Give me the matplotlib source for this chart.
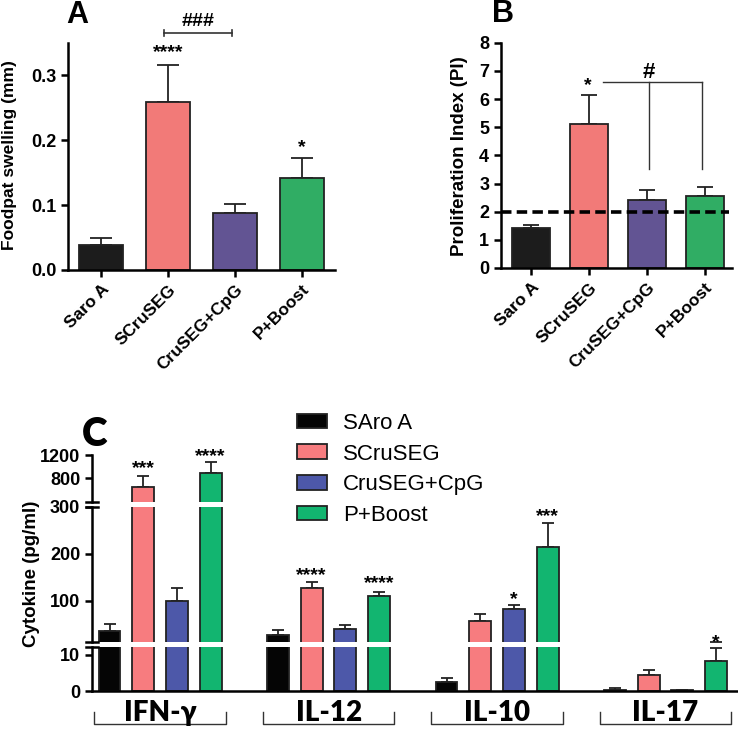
import matplotlib
matplotlib.use("Agg")
import matplotlib.pyplot as plt
import matplotlib.transforms as mtransforms
from matplotlib.lines import Line2D
import numpy as np

plt.rcParams['font.family'] = ['Liberation Sans', 'DejaVu Sans']

# ---------------- data ----------------
groups = ["Saro A", "SCruSEG", "CruSEG+CpG", "P+Boost"]
legend_labels = ["SAro A", "SCruSEG", "CruSEG+CpG", "P+Boost"]

# Panel A: footpad swelling (mm)
swelling = [0.039, 0.258, 0.087, 0.142]
swelling_err = [0.010, 0.057, 0.014, 0.031]

# Panel B: proliferation index
prolif = [1.41, 5.13, 2.42, 2.57]
prolif_err = [0.11, 1.03, 0.34, 0.29]
prolif_cutoff = 2.0

# Panel C: cytokines (pg/ml)
cytokines = ["IFN-\u03b3", "IL-12", "IL-10", "IL-17"]
saro_c = [35, 28, 2.6, 0.3]
scru_c = [650, 127, 58, 4.3]
cpg_c = [100, 40, 82, 0.2]
boost_c = [890, 111, 215, 8.3]
saro_c_err = [16, 9, 1.0, 0.5]
scru_c_err = [195, 13, 14, 1.6]
cpg_c_err = [28, 7.5, 8, 0.2]
boost_c_err = [195, 7, 51, 3.4]

colors_ab = ["#1c1c1c", "#f27a78", "#625493", "#30ad64"]
colors_c = ["#050505", "#f77c7f", "#4d58a9", "#12b570"]

CAL = ["Lato", "DejaVu Sans"]

W, H = 738, 729
fig = plt.figure(figsize=(W / 100, H / 100), dpi=100)


def rect(left, top, right, bottom):
    return [left / W, (H - bottom) / H, (right - left) / W, (bottom - top) / H]


def style_axes(ax):
    for s in ["top", "right"]:
        ax.spines[s].set_visible(False)
    for s in ["left", "bottom"]:
        ax.spines[s].set_linewidth(1.8)
    ax.tick_params(width=1.8, length=5, labelsize=13)
    for lab in ax.get_yticklabels():
        lab.set_fontweight("bold")


def star(ax, x, ytop, text, gap_px, fs=14):
    # place glyph visual centre gap_px above ytop
    off = (gap_px - 0.57 * fs / 0.72) * 0.72
    ax.annotate(text, xy=(x, ytop), xytext=(0, off), textcoords="offset points",
                ha="center", va="baseline", fontsize=fs, fontweight="bold",
                annotation_clip=False, zorder=6)


# ---------------- Panel A ----------------
axA = fig.add_axes(rect(68, 42.7, 335, 270))
xA = np.arange(len(groups))
axA.errorbar(xA, swelling, yerr=[np.zeros(4), swelling_err], fmt="none",
             ecolor="#222222", elinewidth=1.3, capsize=8, capthick=1.3, zorder=1)
axA.bar(xA, swelling, width=0.66, color=colors_ab, edgecolor="#222222",
        linewidth=1.3, zorder=2)
axA.set_xlim(-0.5, 3.5)
axA.set_ylim(0, 0.35)
axA.set_yticks([0, 0.1, 0.2, 0.3])
axA.set_yticklabels(["0.0", "0.1", "0.2", "0.3"])
axA.set_xticks(xA)
axA.set_xticklabels(groups, rotation=45, ha="right", rotation_mode="anchor",
                    fontsize=12.5, fontweight="bold")
style_axes(axA)
axA.tick_params(axis="x", labelsize=12.5)
star(axA, 1, swelling[1] + swelling_err[1], "****", 19)
star(axA, 3, swelling[3] + swelling_err[3], "*", 17)
# ### bracket
yb = 0.365
axA.plot([0.94, 1.96], [yb, yb], color="#333333", lw=1.2, clip_on=False)
for xe in [0.94, 1.96]:
    axA.plot([xe, xe], [yb - 0.005, yb + 0.005], color="#333333", lw=1.2, clip_on=False)
axA.annotate("###", xy=(1.45, yb), xytext=(0, 2), textcoords="offset points",
             ha="center", va="bottom", fontsize=14, fontweight="bold",
             annotation_clip=False)
fig.text(10 / W, 1 - 155 / H, "Foodpat swelling (mm)", rotation=90, ha="center",
         va="center", fontsize=12.5, fontweight="bold")
fig.text(77 / W, 1 - 15 / H, "A", ha="center", va="center", fontsize=22, fontweight="bold")

# ---------------- Panel B ----------------
axB = fig.add_axes(rect(501, 42.7, 732, 268))
xB = np.arange(len(groups))
axB.errorbar(xB, prolif, yerr=[np.zeros(4), prolif_err], fmt="none",
             ecolor="#222222", elinewidth=1.3, capsize=6, capthick=1.3, zorder=1)
axB.bar(xB, prolif, width=0.66, color=colors_ab, edgecolor="#222222",
        linewidth=1.3, zorder=2)
axB.set_xlim(-0.52, 3.47)
axB.set_ylim(0, 8)
axB.set_yticks(range(0, 9))
axB.set_xticks(xB)
axB.set_xticklabels(groups, rotation=45, ha="right", rotation_mode="anchor",
                    fontsize=12.5, fontweight="bold")
style_axes(axB)
axB.tick_params(axis="x", labelsize=12.5)
axB.axhline(prolif_cutoff, xmin=0, xmax=0.985, color="black", lw=2.6,
            dashes=[2.9, 1.45], zorder=5)
star(axB, 0.98, 6.63, "*", 2)
axB.plot([1.24, 2.95], [6.6, 6.6], color="#333333", lw=1.0, clip_on=False)
axB.plot([2.03, 2.03], [6.6, 3.5], color="#333333", lw=1.0)
axB.plot([2.95, 2.95], [6.6, 3.5], color="#333333", lw=1.0)
axB.annotate("#", xy=(2.03, 7.02), xytext=(0, -0.36 * 16), textcoords="offset points",
             ha="center", va="baseline", fontsize=16, fontweight="bold",
             annotation_clip=False)
fig.text(460 / W, 1 - 156 / H, "Proliferation Index (PI)", rotation=90, ha="center",
         va="center", fontsize=13.5, fontweight="bold")
fig.text(503 / W, 1 - 14 / H, "B", ha="center", va="center", fontsize=22, fontweight="bold")

# ---------------- Panel C (broken axis) ----------------
axU = fig.add_axes(rect(92, 455, 737, 501.5))
axM = fig.add_axes(rect(92, 506.7, 737, 641.7))
axL = fig.add_axes(rect(92, 647.3, 737, 691))

series = [saro_c, scru_c, cpg_c, boost_c]
series_err = [saro_c_err, scru_c_err, cpg_c_err, boost_c_err]
gx = np.arange(len(cytokines)) * 5.0
offsets = [-1.5, -0.5, 0.5, 1.5]
bars_for_legend = []
for ax in (axU, axM, axL):
    for i, (vals, errs) in enumerate(zip(series, series_err)):
        xs = gx + offsets[i]
        ax.errorbar(xs, vals, yerr=[np.zeros(4), errs], fmt="none", ecolor="#222222",
                    elinewidth=1.3, capsize=4, capthick=1.3, zorder=1)
        b = ax.bar(xs, vals, width=0.65, color=colors_c[i], edgecolor="#222222",
                   linewidth=1.3, zorder=2, label=legend_labels[i])
        if ax is axL:
            bars_for_legend.append(b)
    ax.set_xlim(-2.02, 17.12)
    ax.set_xticks([])
    for s in ["top", "right", "bottom"]:
        ax.spines[s].set_visible(False)
    ax.spines["left"].set_linewidth(1.8)
    ax.tick_params(axis="y", width=1.8, length=5, labelsize=13)
    ax.patch.set_alpha(0)

axU.set_ylim(400, 1200)
axU.set_yticks([800, 1200])
axM.set_ylim(13, 300)
axM.set_yticks([100, 200, 300])
axL.set_ylim(0, 12)
axL.set_yticks([0, 10])
axL.spines["bottom"].set_visible(True)
axL.spines["bottom"].set_linewidth(1.8)
for ax in (axU, axM, axL):
    for lab in ax.get_yticklabels():
        lab.set_fontweight("bold")

# break caps on the y axis
for ax, ends in ((axU, [0]), (axM, [0, 1]), (axL, [1])):
    tr = mtransforms.blended_transform_factory(ax.transAxes, ax.transAxes)
    for yy in ends:
        ax.add_line(Line2D([-0.009, 0.009], [yy, yy], transform=tr, color="black",
                           lw=1.8, clip_on=False))

# significance stars in C
star(axU, gx[0] + offsets[1], scru_c[0] + scru_c_err[0], "***", 14)
star(axU, gx[0] + offsets[3], boost_c[0] + boost_c_err[0], "****", 12)
star(axM, gx[1] + offsets[1], scru_c[1] + scru_c_err[1], "****", 13)
star(axM, gx[1] + offsets[3], boost_c[1] + boost_c_err[1], "****", 15)
star(axM, gx[2] + offsets[2], cpg_c[2] + cpg_c_err[2], "*", 12)
star(axM, gx[2] + offsets[3], boost_c[2] + boost_c_err[2], "***", 13)
star(axL, gx[3] + offsets[3], boost_c[3] + boost_c_err[3], "*", 12)

# group labels with brackets
trg = mtransforms.blended_transform_factory(axL.transData, fig.transFigure)
for g, name in zip(gx, cytokines):
    x0, x1 = g - 1.95, g + 1.95
    yb_ = 1 - 724.3 / H
    yt_ = 1 - 712.3 / H
    fig.add_artist(Line2D([x0, x0, x1, x1], [yt_, yb_, yb_, yt_], transform=trg,
                          color="#333333", lw=1.0))
    fig.text(g, 1 - 720.7 / H, name, transform=trg, ha="center", va="baseline",
             fontsize=20, fontweight="heavy", family=CAL)

fig.text(32 / W, 1 - 574 / H, "Cytokine (pg/ml)", rotation=90, ha="center",
         va="center", fontsize=13.5, fontweight="bold")
fig.text(82 / W, 1 - 446 / H, "C", ha="left", va="baseline", fontsize=28,
         fontweight="heavy", family=CAL)

fig.legend(handles=bars_for_legend, labels=legend_labels, loc="upper left",
           bbox_to_anchor=(297 / W, 1 - 413 / H), frameon=False, fontsize=16,
           handlelength=1.35, handleheight=0.63, handletextpad=0.72,
           labelspacing=0.43, borderpad=0, borderaxespad=0)

fig.savefig("out.png", dpi=100)
